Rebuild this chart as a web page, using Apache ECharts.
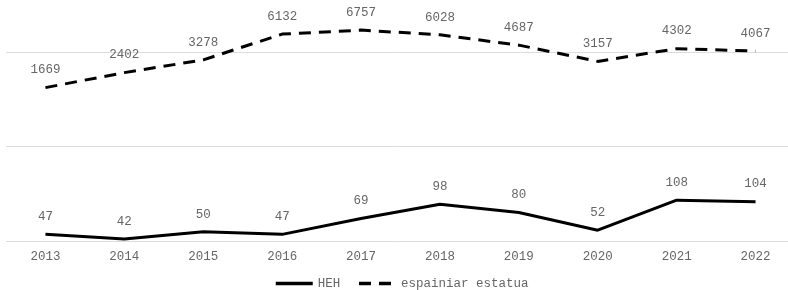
<!DOCTYPE html>
<html>
<head>
<meta charset="utf-8">
<script src="https://cdn.jsdelivr.net/npm/echarts@6/dist/echarts.min.js"></script>
<style>
  html, body { margin: 0; padding: 0; background: #fff; }
  #main { width: 788px; height: 290px; }
</style>
</head>
<body>
<div id="main"></div>
<script>
  // 数据
  var years = ['2013', '2014', '2015', '2016', '2017', '2018', '2019', '2020', '2021', '2022'];
  var hehValues = [47, 42, 50, 47, 69, 98, 80, 52, 108, 104];
  var estatuaValues = [1669, 2402, 3278, 6132, 6757, 6028, 4687, 3157, 4302, 4067];
  var seriesNames = ['HEH', 'espainiar estatua'];

  var fontName = '"Liberation Mono", "DejaVu Sans Mono", monospace';
  var textColor = '#666';

  var myChart = echarts.init(document.getElementById('main'));

  var option = {
    animation: false,
    textStyle: { fontFamily: fontName },
    grid: {
      left: 6,
      width: 789,
      top: 14,
      bottom: 49,
      outerBoundsMode: 'none',
      containLabel: false
    },
    legend: {
      left: 269,
      top: 272,
      itemWidth: 37,
      itemHeight: 12,
      itemGap: 17,
      itemStyle: { opacity: 0 },
      lineStyle: { width: 3.5 },
      textStyle: { fontFamily: fontName, fontSize: 12.5, color: textColor },
      data: seriesNames
    },
    xAxis: {
      type: 'category',
      data: years,
      boundaryGap: true,
      axisLine: { show: false },
      axisTick: { show: false },
      axisLabel: { margin: 9, fontFamily: fontName, fontSize: 12.5, color: textColor }
    },
    yAxis: {
      type: 'log',
      logBase: 10,
      min: 40,
      max: 10000,
      interval: 1,
      axisLine: { show: false },
      axisTick: { show: false },
      axisLabel: { show: false },
      splitLine: { show: true, showMaxLine: false, lineStyle: { color: '#dcdcdc', width: 1 } }
    },
    series: [
      {
        name: seriesNames[0],
        type: 'line',
        data: hehValues,
        symbol: 'circle',
        symbolSize: 0.1,
        lineStyle: { color: '#000', width: 3, type: 'solid' },
        itemStyle: { color: '#000' },
        label: { show: true, position: 'top', distance: 11, fontFamily: fontName, fontSize: 12.5, color: textColor }
      },
      {
        name: seriesNames[1],
        type: 'line',
        data: estatuaValues,
        symbol: 'circle',
        symbolSize: 0.1,
        lineStyle: { color: '#000', width: 3, type: [12, 8] },
        itemStyle: { color: '#000' },
        label: { show: true, position: 'top', distance: 11, fontFamily: fontName, fontSize: 12.5, color: textColor }
      }
    ]
  };

  myChart.setOption(option);
</script>
</body>
</html>
